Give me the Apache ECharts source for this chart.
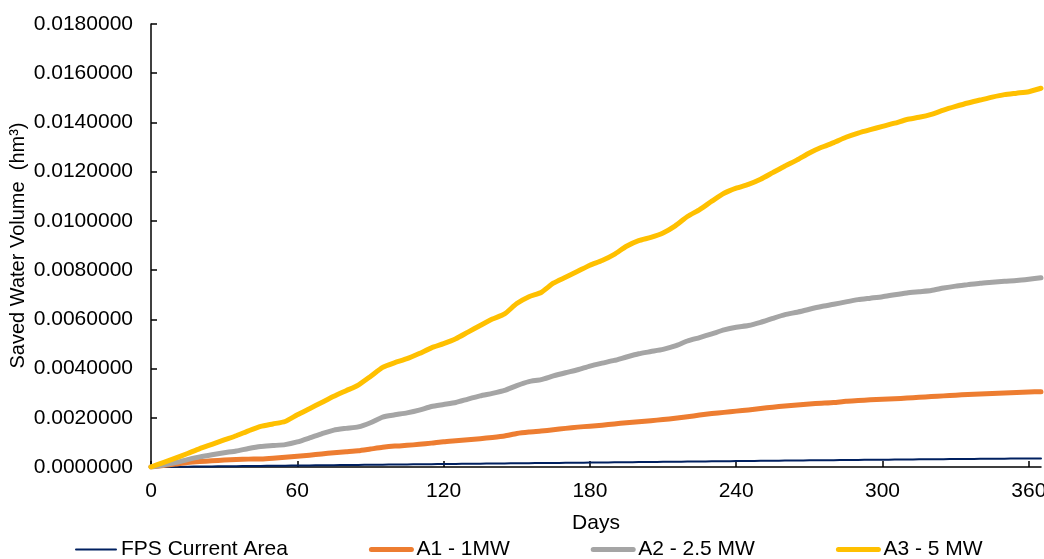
<!DOCTYPE html>
<html>
<head>
<meta charset="utf-8">
<script src="https://cdn.jsdelivr.net/npm/echarts@6/dist/echarts.min.js"></script>
<style>
html,body{margin:0;padding:0;background:#fff;}
#chart{width:1044px;height:559px;}
</style>
</head>
<body>
<div id="chart"></div>
<script>
// Days sampled every 5 days (last = 365)
const days = [0,5,10,15,20,25,30,35,40,45,50,55,60,65,70,75,80,85,90,95,100,105,110,115,120,125,130,135,140,145,150,155,160,165,170,175,180,185,190,195,200,205,210,215,220,225,230,235,240,245,250,255,260,265,270,275,280,285,290,295,300,305,310,315,320,325,330,335,340,345,350,355,360,365];

const seriesNames = ["FPS Current Area", "A1 - 1MW", "A2 - 2.5 MW", "A3 - 5 MW"];

const fpsValues = [0,0.000004,0.000009,0.000014,0.000019,0.000024,0.000029,0.000034,0.000039,0.000044,0.000049,0.000054,0.000059,0.000064,0.00007,0.000075,0.00008,0.000085,0.00009,0.000095,0.0001,0.000105,0.00011,0.000115,0.00012,0.000125,0.00013,0.000135,0.00014,0.000145,0.00015,0.000155,0.00016,0.000165,0.00017,0.000175,0.00018,0.000185,0.00019,0.000195,0.0002,0.000205,0.00021,0.000215,0.00022,0.000225,0.00023,0.000235,0.00024,0.000245,0.00025,0.000255,0.00026,0.000265,0.00027,0.000274,0.000279,0.000284,0.000288,0.000293,0.000297,0.000302,0.000306,0.00031,0.000315,0.000319,0.000323,0.000327,0.000331,0.000335,0.000339,0.000343,0.000347,0.00035];

const a1Values = [0,0.00006,0.00012,0.00018,0.00022,0.00025,0.00028,0.0003,0.00032,0.00033,0.00036,0.0004,0.00044,0.00048,0.00053,0.00058,0.00062,0.00066,0.00073,0.0008,0.00085,0.00088,0.00092,0.00097,0.00103,0.00107,0.00111,0.00115,0.0012,0.00126,0.00136,0.00142,0.00146,0.00151,0.00157,0.00162,0.00166,0.0017,0.00175,0.0018,0.00184,0.00188,0.00193,0.00198,0.00204,0.00211,0.00217,0.00222,0.00227,0.00232,0.00238,0.00243,0.00248,0.00252,0.00256,0.00259,0.00262,0.00267,0.0027,0.00273,0.00275,0.00277,0.0028,0.00283,0.00286,0.00289,0.00292,0.00295,0.00297,0.00299,0.00301,0.00303,0.00305,0.00306];

const a2Values = [0,0.00008,0.00018,0.0003,0.00041,0.0005,0.00058,0.00065,0.00075,0.00083,0.00087,0.00091,0.00102,0.00118,0.00135,0.0015,0.00157,0.00163,0.0018,0.00203,0.00212,0.0022,0.00231,0.00246,0.00254,0.00262,0.00276,0.00289,0.00299,0.00311,0.00331,0.00347,0.00355,0.0037,0.00383,0.00395,0.0041,0.00422,0.00433,0.00447,0.0046,0.00469,0.00478,0.00492,0.00512,0.00526,0.00541,0.00557,0.00568,0.00575,0.00588,0.00604,0.00619,0.00629,0.00641,0.00652,0.00661,0.00671,0.0068,0.00686,0.00692,0.007,0.00707,0.00712,0.00717,0.00727,0.00735,0.00741,0.00747,0.00751,0.00755,0.00758,0.00763,0.00769];

const a3Values = [0,0.00018,0.00036,0.00055,0.00075,0.00092,0.0011,0.00127,0.00147,0.00165,0.00175,0.00185,0.00212,0.00237,0.00262,0.00287,0.0031,0.00333,0.00368,0.00405,0.00424,0.0044,0.00461,0.00484,0.00501,0.00521,0.00548,0.00575,0.00601,0.00622,0.00664,0.00692,0.00709,0.00747,0.00771,0.00795,0.0082,0.00839,0.00864,0.00897,0.0092,0.00933,0.00951,0.0098,0.01018,0.01046,0.0108,0.01112,0.01133,0.01148,0.01169,0.01196,0.01223,0.01248,0.01276,0.01299,0.01318,0.0134,0.01357,0.01371,0.01384,0.01397,0.01412,0.01421,0.01433,0.0145,0.01465,0.01479,0.01491,0.01503,0.01513,0.01519,0.01525,0.01539];

const xTicks = [0,60,120,180,240,300,360];

const colors = ["#002060", "#ED7D31", "#A5A5A5", "#FFC000"];
const widths = [2, 5, 5, 5];
const valueSets = [fpsValues, a1Values, a2Values, a3Values];

const FONT = "Liberation Sans, Arial, sans-serif";
const FS = 21;

const chart = echarts.init(document.getElementById('chart'), null, {renderer: 'canvas'});
chart.setOption({
  animation: false,
  backgroundColor: '#fff',
  textStyle: {fontFamily: FONT, color: '#000'},
  grid: {left: 151, right: 3, top: 24, bottom: 92, containLabel: false, outerBoundsMode: 'none'},
  legend: {
    data: seriesNames.map((n, i) => ({
      name: n,
      lineStyle: {color: colors[i], width: widths[i], cap: 'round', opacity: 1}
    })),
    left: 70,
    top: 534,
    itemWidth: 40,
    itemHeight: 10,
    itemGap: 81,
    itemStyle: {opacity: 0},
    textStyle: {fontFamily: FONT, fontSize: FS, color: '#000'}
  },
  xAxis: {
    type: 'value',
    min: 0,
    max: 365,
    name: 'Days',
    nameLocation: 'middle',
    nameGap: 46,
    nameMoveOverlap: false,
    nameTextStyle: {fontFamily: FONT, fontSize: FS, color: '#000'},
    axisLine: {show: true, onZero: false, lineStyle: {color: '#000', width: 1.5}},
    axisTick: {show: true, inside: true, length: 6, customValues: xTicks, lineStyle: {color: '#000', width: 1.5}},
    axisLabel: {customValues: xTicks, margin: 14, fontFamily: FONT, fontSize: FS, color: '#000'},
    splitLine: {show: false}
  },
  yAxis: {
    type: 'value',
    min: 0,
    max: 0.018,
    interval: 0.002,
    name: 'Saved Water Volume  (hm³)',
    nameLocation: 'middle',
    nameGap: 123,
    nameMoveOverlap: false,
    nameRotate: 90,
    nameTextStyle: {fontFamily: FONT, fontSize: 20, color: '#000'},
    axisLine: {show: true, lineStyle: {color: '#000', width: 1.5}},
    axisTick: {show: true, inside: true, length: 6, lineStyle: {color: '#000', width: 1.5}},
    axisLabel: {
      margin: 18, fontFamily: FONT, fontSize: FS, color: '#000',
      formatter: v => v.toFixed(7)
    },
    splitLine: {show: false}
  },
  series: seriesNames.map((name, i) => ({
    name: name,
    type: 'line',
    showSymbol: false,
    symbol: 'none',
    smooth: 0.2,
    color: colors[i],
    lineStyle: {color: colors[i], width: widths[i], cap: 'round', join: 'round'},
    data: days.map((d, k) => [d, valueSets[i][k]])
  }))
});
</script>
</body>
</html>
